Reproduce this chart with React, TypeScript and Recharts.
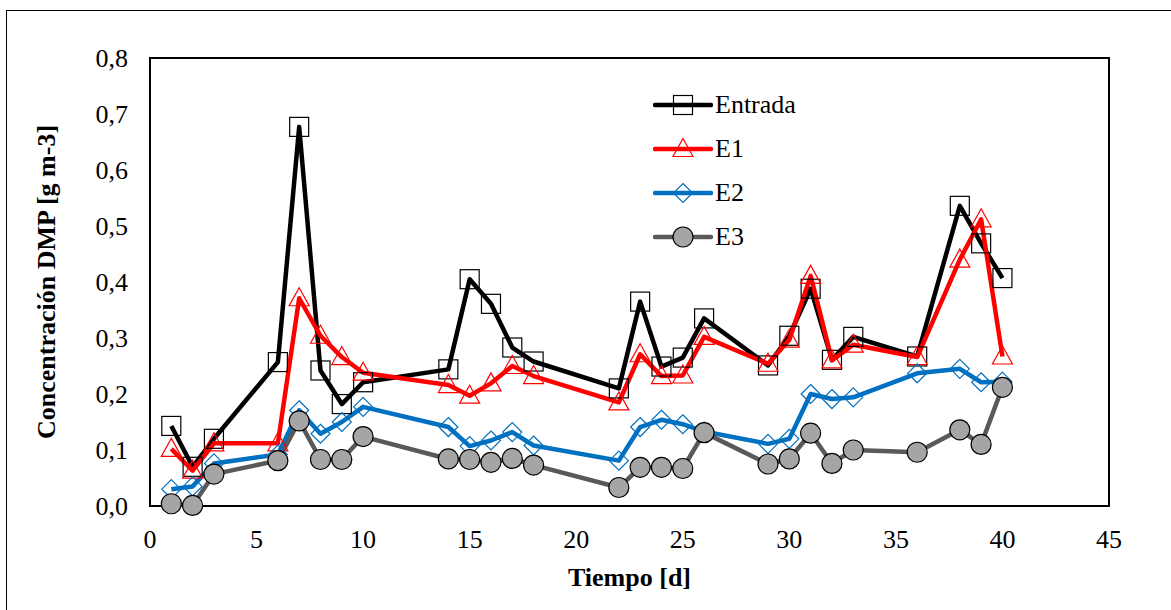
import { LineChart, Line, XAxis, YAxis, ReferenceArea, Label } from "recharts"

// Tiempo [d]
const days = [1, 2, 3, 6, 7, 8, 9, 10, 14, 15, 16, 17, 18, 22, 23, 24, 25, 26, 29, 30, 31, 32, 33, 36, 38, 39, 40]

// Concentración DMP [g m-3]
const entrada = [0.143, 0.07, 0.12, 0.257, 0.677, 0.242, 0.182, 0.221, 0.244, 0.405, 0.361, 0.283, 0.258, 0.21, 0.365, 0.249, 0.265, 0.335, 0.251, 0.304, 0.388, 0.261, 0.302, 0.267, 0.536, 0.469, 0.407]
const e1 = [0.102, 0.063, 0.112, 0.112, 0.371, 0.304, 0.266, 0.238, 0.216, 0.197, 0.219, 0.25, 0.232, 0.185, 0.271, 0.232, 0.233, 0.302, 0.254, 0.297, 0.411, 0.26, 0.288, 0.266, 0.44, 0.512, 0.267]
const e2 = [0.03, 0.035, 0.076, 0.092, 0.171, 0.129, 0.15, 0.177, 0.141, 0.107, 0.117, 0.132, 0.108, 0.081, 0.141, 0.154, 0.146, 0.133, 0.111, 0.12, 0.2, 0.191, 0.194, 0.237, 0.245, 0.221, 0.222]
const e3 = [0.004, 0.001, 0.057, 0.081, 0.152, 0.083, 0.083, 0.124, 0.084, 0.083, 0.078, 0.085, 0.073, 0.033, 0.069, 0.069, 0.067, 0.131, 0.075, 0.084, 0.13, 0.076, 0.1, 0.096, 0.136, 0.11, 0.212]

const xTicks = [0, 5, 10, 15, 20, 25, 30, 35, 40, 45]
const yTicks = [0, 0.1, 0.2, 0.3, 0.4, 0.5, 0.6, 0.7, 0.8]

const data = days.map((d, i) => ({ dia: d, entrada: entrada[i], e1: e1[i], e2: e2[i], e3: e3[i] }))

type Shape = "square" | "triangle" | "diamond" | "circle"

const series: { key: string; name: string; color: string; shape: Shape }[] = [
  { key: "entrada", name: "Entrada", color: "#000000", shape: "square" },
  { key: "e1", name: "E1", color: "#ff0000", shape: "triangle" },
  { key: "e2", name: "E2", color: "#0070c0", shape: "diamond" },
  { key: "e3", name: "E3", color: "#595959", shape: "circle" },
]

const FONT = '"Liberation Serif", "Times New Roman", serif'

function Marker({ shape, cx, cy }: { shape: Shape; cx: number; cy: number }) {
  if (shape === "square")
    return <rect x={cx - 9.5} y={cy - 9.5} width={19} height={19} fill="none" stroke="#000" strokeWidth={1.2} />
  if (shape === "triangle")
    return <polygon points={`${cx},${cy - 10.5} ${cx + 10},${cy + 7.5} ${cx - 10},${cy + 7.5}`} fill="none" stroke="#ff0000" strokeWidth={1.2} />
  if (shape === "diamond")
    return <polygon points={`${cx},${cy - 9.5} ${cx + 9.5},${cy} ${cx},${cy + 9.5} ${cx - 9.5},${cy}`} fill="none" stroke="#0070c0" strokeWidth={1.2} />
  return <circle cx={cx} cy={cy} r={10} fill="#a5a5a5" stroke="#000" strokeWidth={1.2} />
}

function LegendBox() {
  return (
    <div style={{ position: "absolute", left: 653, top: 83, fontFamily: FONT, fontSize: 26, color: "#000" }}>
      {series.map((s) => (
        <div key={s.key} style={{ display: "flex", alignItems: "center", height: 44 }}>
          <svg width={60} height={24} style={{ display: "block" }}>
            <line x1={2} y1={12} x2={58} y2={12} stroke={s.color} strokeWidth={4.5} strokeLinecap="round" />
            <Marker shape={s.shape} cx={30} cy={12} />
          </svg>
          <span style={{ marginLeft: 2, lineHeight: 1 }}>{s.name}</span>
        </div>
      ))}
    </div>
  )
}

const fmt = (v: number) => v.toFixed(1).replace(".", ",")

export default function App() {
  return (
    <div style={{ position: "relative", width: 1171, height: 610, overflow: "hidden", background: "#fff" }}>
      <style>{`body{margin:0} .recharts-wrapper, .recharts-wrapper text { font-family: ${FONT}; }`}</style>
      <div style={{ position: "absolute", left: 6, top: 10, width: 1300, height: 800, border: "1px solid #000" }} />
      <div style={{ position: "absolute", left: 0, top: 0 }}>
        <LineChart width={1171} height={610} data={data} margin={{ top: 58, right: 62, bottom: 54, left: 10 }} style={{ fontFamily: FONT }}>
          <ReferenceArea x1={0} x2={45} y1={0} y2={0.8} fill="none" stroke="#000" strokeWidth={2} />
          <XAxis
            dataKey="dia"
            type="number"
            domain={[0, 45]}
            ticks={xTicks}
            interval={0}
            axisLine={false}
            tickLine={false}
            tickMargin={18}
            height={50}
            tick={{ fill: "#000", fontSize: 26, fontFamily: FONT }}
          >
            <Label
              content={(props: any) => {
                const vb = props.viewBox
                return (
                  <text x={vb.x + vb.width / 2} y={vb.y + 71} textAnchor="middle" dominantBaseline="central" fontFamily={FONT} fontSize={26} fontWeight="bold" fill="#000">
                    Tiempo [d]
                  </text>
                )
              }}
            />
          </XAxis>
          <YAxis
            type="number"
            domain={[0, 0.8]}
            ticks={yTicks}
            interval={0}
            tickFormatter={fmt}
            axisLine={false}
            tickLine={false}
            tickMargin={16}
            width={140}
            tick={{ fill: "#000", fontSize: 26, fontFamily: FONT }}
          >
            <Label
              content={(props: any) => {
                const vb = props.viewBox
                const x = vb.x + 36
                const y = vb.y + vb.height / 2
                return (
                  <text x={x} y={y} transform={`rotate(-90 ${x} ${y})`} textAnchor="middle" dominantBaseline="central" fontFamily={FONT} fontSize={26} fontWeight="bold" fill="#000">
                    Concentración DMP [g m-3]
                  </text>
                )
              }}
            />
          </YAxis>
          {series.map((s) => (
            <Line
              key={s.key}
              dataKey={s.key}
              name={s.name}
              stroke={s.color}
              strokeWidth={4.5}
              strokeLinejoin="round"
              isAnimationActive={false}
              dot={(p: any) => (
                <g key={`${s.key}-${p.index}`}>
                  <Marker shape={s.shape} cx={p.cx} cy={p.cy} />
                </g>
              )}
              activeDot={false}
            />
          ))}
        </LineChart>
      </div>
      <LegendBox />
    </div>
  )
}
